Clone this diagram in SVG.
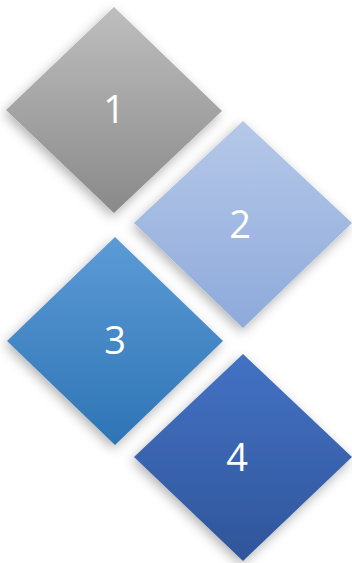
<svg xmlns="http://www.w3.org/2000/svg" width="352" height="563" viewBox="0 0 352 563">
<defs>
<linearGradient id="g1" x1="0" y1="0" x2="0" y2="1"><stop offset="0" stop-color="#bebebe"/><stop offset="1" stop-color="#898989"/></linearGradient>
<linearGradient id="g2" x1="0" y1="0" x2="0" y2="1"><stop offset="0" stop-color="#b5c8e8"/><stop offset="1" stop-color="#8eaadb"/></linearGradient>
<linearGradient id="g3" x1="0" y1="0" x2="0" y2="1"><stop offset="0" stop-color="#5c9bd6"/><stop offset="1" stop-color="#2e74b5"/></linearGradient>
<linearGradient id="g4" x1="0" y1="0" x2="0" y2="1"><stop offset="0" stop-color="#4472c4"/><stop offset="1" stop-color="#2f559a"/></linearGradient>
<filter id="sh" x="-30%" y="-30%" width="160%" height="160%"><feDropShadow dx="-2" dy="4" stdDeviation="6" flood-color="#000" flood-opacity="0.3"/></filter>
</defs>
<style>
.lbl{font-family:"Open Sans","Noto Sans",sans-serif;font-size:38px;fill:#fff;text-anchor:middle}
</style>
<rect width="352" height="563" fill="#fff"/>
<g id="node1"><polygon points="114,7 222,111 114,213 6,110" fill="url(#g1)" filter="url(#sh)"/><text class="lbl" x="114" y="123">1</text></g>
<g id="node2"><polygon points="243,121 352,223 243,328 134,223" fill="url(#g2)" filter="url(#sh)"/><text class="lbl" x="240" y="238">2</text></g>
<g id="node3"><polygon points="115,237 223,341 115,445 7,341" fill="url(#g3)" filter="url(#sh)"/><text class="lbl" x="115" y="354">3</text></g>
<g id="node4"><polygon points="243,354 352,457 243,561 134,457" fill="url(#g4)" filter="url(#sh)"/><text class="lbl" x="237" y="471">4</text></g>
<g id="connectors"/>
</svg>
